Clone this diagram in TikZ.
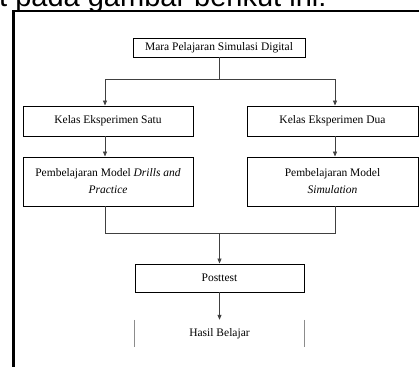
\documentclass[tikz,border=0pt]{standalone}
\usepackage{fontspec}
\setmainfont{Liberation Serif}
\newfontfamily\headfont{Liberation Sans}
\usetikzlibrary{arrows.meta, calc}

\begin{document}
\begin{tikzpicture}[
        x=1pt, y=-1pt,
        font=\fontsize{11.5}{17}\selectfont,
        box/.style={draw, line width=0.9pt, minimum width=170pt, minimum height=30pt, align=center, inner sep=0pt},
        link/.style={draw=black!75, line width=0.8pt},
        arr/.style={link, -{Triangle[length=5pt, width=4pt]}},
    ]
        \useasboundingbox (0,0) rectangle (419,366);
        \clip (0,0) rectangle (419,366);

        % heading text, cut by the top edge
        \node[anchor=base west, inner sep=0pt, font=\headfont\fontsize{29}{29}\selectfont] (head) at (-1,6.5) {t pada gambar berikut ini:};
        % frame
        \draw[line width=2.6pt] (13.7,370) -- (13.7,11) -- (425,11);

        % top box
        \node[box, minimum width=172pt, minimum height=19pt] (mapel) at (219,47.5) {Mara Pelajaran Simulasi\ Digital};

        % the two classes
        \node[box] (satu) at (108,121) {Kelas Eksperimen Satu};
        \node[box, minimum width=171pt] (dua) at (332.5,121) {Kelas Eksperimen Dua};

        % the two models
        \node[box, minimum height=49pt] (drill) at (108,181.5) {Pembelajaran Model \textit{Drills and}\\\textit{Practice}};
        \node[box, minimum width=171pt, minimum height=49pt] (simul) at (332.5,181.5) {Pembelajaran Model\\\textit{Simulation}};

        % bottom row
        \node[box, minimum width=169pt, minimum height=28pt] (post) at (219.5,278) {Posttest};
        \node[minimum width=169pt, minimum height=27pt, inner sep=0pt] (hasil) at (219.5,333.5) {Hasil Belajar};
        \draw[black!45, line width=0.9pt] (hasil.north west) -- (hasil.south west) (hasil.north east) -- (hasil.south east);

        % split from the top box to both classes
        \coordinate (split) at ($(mapel.south)+(0,22)$);
        \draw[link] (mapel.south) -- (split);
        \draw[arr] (split) -| ([xshift=-3pt]satu.north);
        \draw[arr] (split) -| ([xshift=2.5pt]dua.north);
        % classes -> models
        \draw[arr] ([xshift=-3pt]satu.south) -- ([xshift=-3pt]drill.north);
        \draw[arr] ([xshift=2.5pt]dua.south) -- ([xshift=2.5pt]simul.north);

        % join both models into posttest
        \coordinate (join) at ($(post.north)+(0,-30)$);
        \draw[link] ([xshift=-3pt]drill.south) |- (join) -| ([xshift=2.5pt]simul.south);
        \draw[arr] (join) -- (post);
        \draw[arr] (post) -- (hasil);
    \end{tikzpicture}
\end{document}
